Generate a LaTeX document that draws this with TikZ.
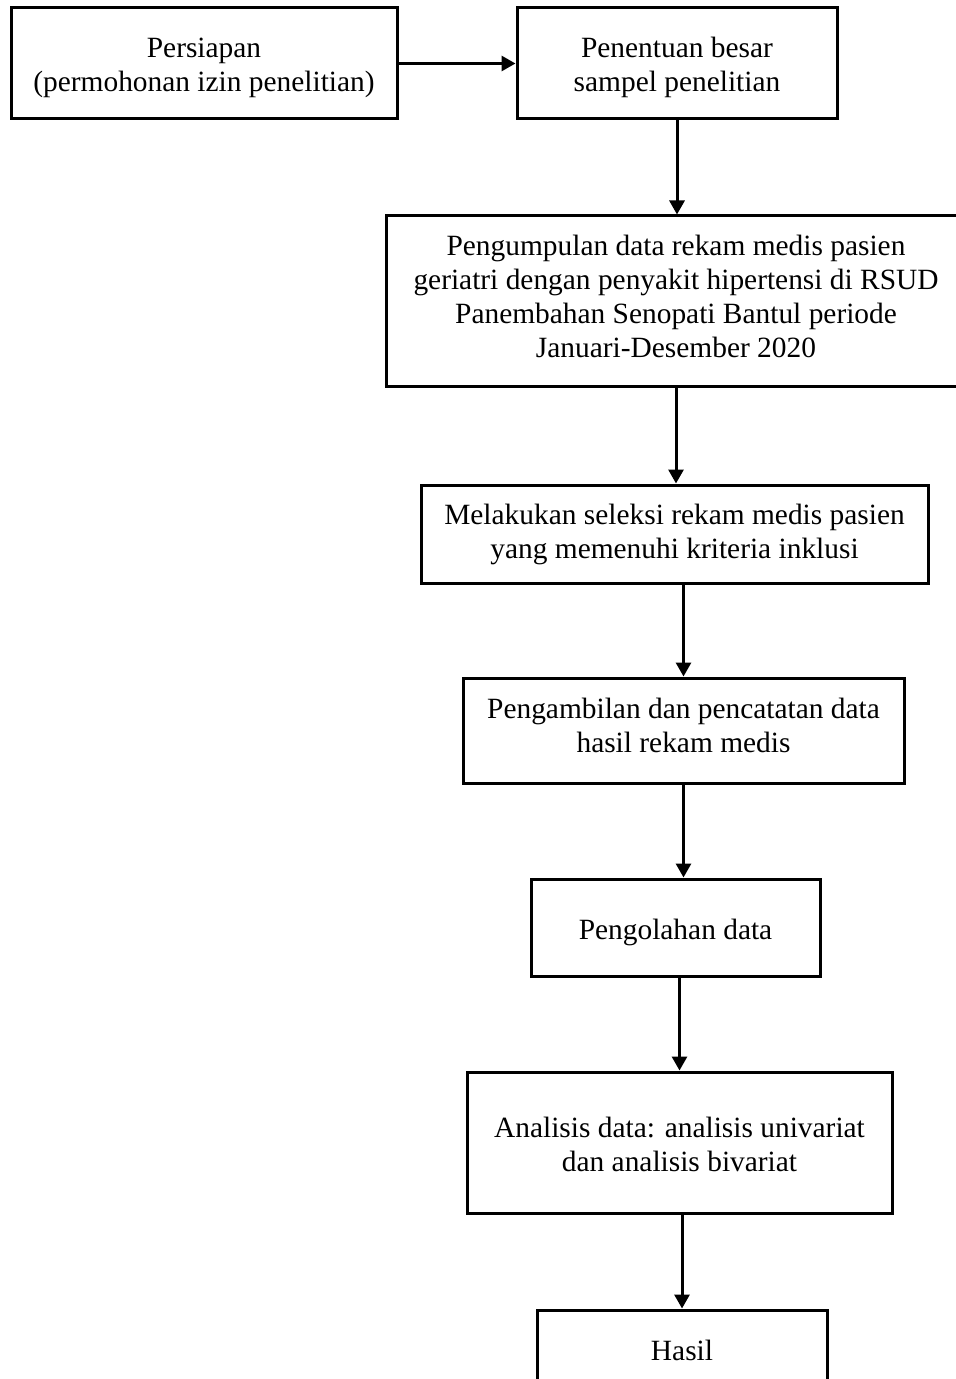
\documentclass[tikz,border=0pt]{standalone}
\usepackage{fontspec}
\setmainfont{Liberation Serif}
\usetikzlibrary{arrows.meta}
\newcommand{\tinggi}[1]{\rule{0pt}{#1}}
\newcommand{\dalam}[1]{\rule[-#1]{0pt}{0pt}}
\begin{document}
\begin{tikzpicture}[x=0.5pt, y=-0.5pt, >={Triangle[length=7pt,width=7.5pt]},
  box/.style={draw, line width=1.5pt, align=center, inner sep=0pt, font=\fontsize{14.7}{17}\selectfont},
  flow/.style={->, line width=1.5pt}]
\useasboundingbox (0,0) rectangle (956,1379);
\node[box, minimum width=193pt, minimum height=55.5pt] (persiapan) at (204,63.5) {\tinggi{14.5pt}Persiapan\\(permohonan izin penelitian)};
\node[box, minimum width=160pt, minimum height=55.5pt] (sampel) at (677,63.5) {\tinggi{14.5pt}Penentuan besar\\sampel penelitian};
\node[box, minimum width=290pt, minimum height=85.5pt] (kumpul) at (676,301.5) {Pengumpulan data rekam medis pasien\\geriatri dengan penyakit hipertensi di RSUD\\Panembahan Senopati Bantul periode\\Januari-Desember 2020\dalam{5pt}};
\node[box, minimum width=253.5pt, minimum height=49pt] (seleksi) at (674.5,534) {Melakukan seleksi rekam medis pasien\\yang memenuhi kriteria inklusi};
\node[box, minimum width=220.5pt, minimum height=52.5pt] (ambil) at (683.5,730.5) {Pengambilan dan pencatatan data\\hasil rekam medis\dalam{5pt}};
\node[box, minimum width=144.5pt, minimum height=48.5pt] (olah) at (675.5,927.5) {\tinggi{15pt}Pengolahan data};
\node[box, minimum width=212.5pt, minimum height=70.5pt] (analisis) at (679.5,1142.5) {\tinggi{12pt}Analisis data: analisis univariat\\dan analisis bivariat};
\node[box, minimum width=145pt, minimum height=40pt] (hasil) at (682,1350) {Hasil};
\draw[flow] (persiapan) -- (sampel);
\draw[flow] (sampel.south) -- (sampel.south |- kumpul.north);
\draw[flow] (kumpul.south) -- (kumpul.south |- seleksi.north);
\draw[flow] (seleksi.south -| ambil.north) -- (ambil.north);
\draw[flow] (ambil.south) -- (ambil.south |- olah.north);
\draw[flow] (olah.south -| analisis.north) -- (analisis.north);
\draw[flow] (analisis.south -| hasil.north) -- (hasil.north);
\end{tikzpicture}
\end{document}
